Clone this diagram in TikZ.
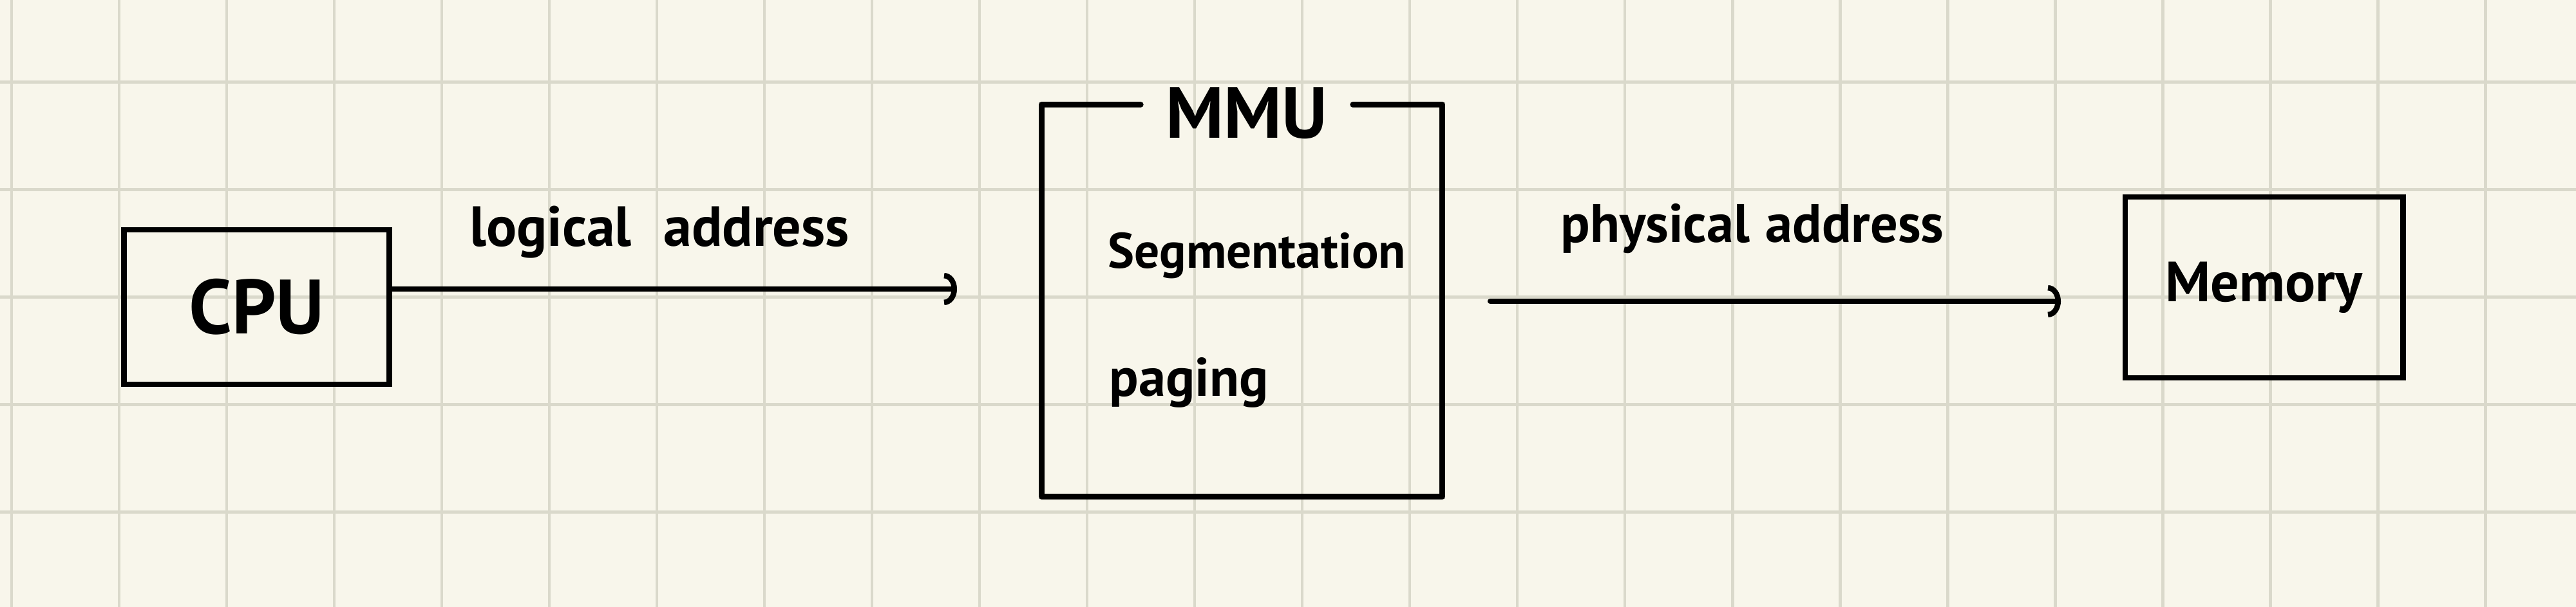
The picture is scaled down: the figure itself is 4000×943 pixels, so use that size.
\documentclass[tikz,border=0pt]{standalone}
\usepackage{fontspec}
\setmainfont{PT Sans}
\usetikzlibrary{arrows.meta}
\definecolor{paper}{RGB}{248,246,235}
\definecolor{gridline}{RGB}{218,217,203}

\begin{document}
\begin{tikzpicture}[
    x=0.01cm, y=-0.01cm,
    >={Arc Barb[length=0.2cm, width=0.5cm]},
    box/.style={draw, rectangle, line width=2.5pt, inner sep=0pt, font=\bfseries\fontsize{34}{40}\selectfont},
    lbl/.style={inner sep=0pt, font=\bfseries\fontsize{24}{28}\selectfont},
    wire/.style={->, line width=2.4pt, line cap=round}
]
    % paper and grid
    \fill[paper] (0,0) rectangle (4000,943);
    \useasboundingbox (0,0) rectangle (4000,943);
    \foreach \gx in {0,...,23}
        \draw[gridline, line width=1.4pt] (18+167*\gx,0) -- (18+167*\gx,943);
    \foreach \gy in {0,...,4}
        \draw[gridline, line width=1.4pt] (0,127.5+167*\gy) -- (4000,127.5+167*\gy);

    \node[box, minimum width=4.11cm, minimum height=2.4cm] (cpu) at (398.5,477) {CPU\hspace{0.45cm}};
    \node[box, draw=none, minimum width=6.13cm, minimum height=6cm] (mmu) at (1928.5,467) {};
    \node[box, draw=none, anchor=base, inner xsep=0.35cm, font=\bfseries\fontsize{32}{38}\selectfont] (mmutitle) at (1936,215) {MMU};
    \node[box, minimum width=4.31cm, minimum height=2.81cm, font=\bfseries\fontsize{25}{30}\selectfont] (mem) at (3515.5,446.5) {Memory};

    \node[lbl, anchor=base west, font=\bfseries\fontsize{22}{26}\selectfont] (seg) at (1720,417) {Segmentation};
    \node[lbl, anchor=base west] (pag) at (1722,615) {paging};

    % MMU frame, open round the title
    \draw[line width=2.5pt, line join=round, line cap=round] (mmutitle.west |- mmu.north) -- (mmu.north west) -- (mmu.south west) -- (mmu.south east) -- (mmu.north east) -- (mmutitle.east |- mmu.north);

    \coordinate (la) at (1486,449);
    \coordinate (ps) at (2314,468);
    \coordinate (pe) at (3200,468);
    \draw[wire] (cpu.east |- la) -- (la);
    \draw[wire] (ps) -- (pe);

    \node[lbl, anchor=base, font=\bfseries\fontsize{25}{28}\selectfont] (logaddr) at (1024,383) {logical\hspace{0.5cm}address};
    \node[lbl, anchor=base] (phyaddr) at (2721,377) {physical\hspace{0.25cm}address};

\end{tikzpicture}
\end{document}
